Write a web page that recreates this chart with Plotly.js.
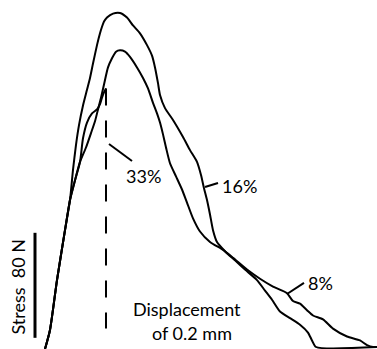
<!DOCTYPE html>
<html>
<head>
<meta charset="utf-8">
<script src="https://cdn.plot.ly/plotly-3.0.1.min.js"></script>
<style>
  html, body { margin: 0; padding: 0; background: #fff; }
  #chart { width: 377px; height: 349px; }
</style>
</head>
<body>
<div id="chart"></div>
<script>
// Load–displacement traces (displacement in mm, stress in N)

// 16% specimen
const disp16 = [0.000, 0.010, 0.024, 0.040, 0.050, 0.056, 0.062, 0.068, 0.076, 0.084, 0.090, 0.096,
  0.104, 0.110, 0.114, 0.118, 0.124, 0.136, 0.150, 0.164, 0.176, 0.190, 0.204, 0.214, 0.220,
  0.226, 0.230, 0.240, 0.256, 0.276, 0.290, 0.304, 0.312, 0.318, 0.324, 0.330, 0.336, 0.344,
  0.360, 0.380, 0.400, 0.424, 0.440, 0.454, 0.470, 0.490, 0.510, 0.526, 0.534, 0.542, 0.664];
const stress16 = [-1.5, 13, 51, 89, 112, 135, 154, 169, 184, 196, 205, 216,
  230, 239, 244, 248, 251, 254, 254.5, 251, 245, 239, 230, 222, 213,
  201, 192, 182, 173, 160, 150, 141, 131, 121, 112, 101, 89, 80,
  73, 66, 59, 51, 43, 36, 27, 22, 17, 11, 5, 0, 0];

// 8% specimen
const disp8 = [0.000, 0.010, 0.024, 0.040, 0.050, 0.060, 0.070, 0.082, 0.092, 0.100, 0.106, 0.112,
  0.118, 0.126, 0.134, 0.142, 0.150, 0.160, 0.170, 0.184, 0.196, 0.206, 0.216, 0.224, 0.230,
  0.236, 0.242, 0.250, 0.262, 0.274, 0.284, 0.296, 0.310, 0.330, 0.356, 0.376, 0.404, 0.430,
  0.456, 0.484, 0.496, 0.510, 0.524, 0.536, 0.556, 0.576, 0.604, 0.630, 0.644, 0.656, 0.664];
const stress8 = [-1.5, 13, 51, 89, 112, 127, 141, 152, 163, 172, 181, 190,
  200, 213, 220, 225, 226, 225, 221, 213, 205, 197, 186, 178, 171,
  162, 152, 140, 130, 120, 110, 98, 88, 80, 74, 68, 59, 52,
  46, 41, 35, 33, 28, 24, 21, 14, 8, 5, 1.5, 0, 0];

// 33% specimen (fails at its peak)
const disp33 = [0.000, 0.010, 0.024, 0.040, 0.050, 0.060, 0.070, 0.076, 0.084, 0.094, 0.104,
  0.110, 0.114, 0.118, 0.122];
const stress33 = [-1.5, 13, 51, 89, 112, 127, 141, 159, 171, 178, 181,
  185, 190, 194, 197];

// drop after failure of the 33% specimen
const dropDisp = [0.122, 0.122];
const dropStress = [197, 14];

// stress scale bar: 80 N
const scaleDisp = [-0.020, -0.020];
const scaleStress = [7, 87];

const curveLabels = ['33%', '16%', '8%'];
const scaleLabel = 'Stress\u00a0\u00a080 N';
const dispLabel = ['Displacement', 'of 0.2 mm'];

const ink = '#000';
const curve = (x, y) => ({
  x, y, type: 'scatter', mode: 'lines', hoverinfo: 'skip',
  line: { color: ink, width: 2, shape: 'spline', smoothing: 0.6 }
});

const traces = [
  curve(disp16, stress16),
  curve(disp8, stress8),
  curve(disp33, stress33),
  { x: dropDisp, y: dropStress, type: 'scatter', mode: 'lines',
    line: { color: ink, width: 2, dash: '17px,15px' } },
  { x: scaleDisp, y: scaleStress, type: 'scatter', mode: 'lines',
    line: { color: ink, width: 3 } }
];

const font = { family: 'Lato, "Open Sans", sans-serif', size: 18, color: ink };
const ann = (text, x, y, extra) => Object.assign({
  text, x, y, xref: 'x', yref: 'y', showarrow: false,
  xanchor: 'center', yanchor: 'middle', font
}, extra || {});

const leader = (x0, y0, x1, y1) => ({
  type: 'line', xref: 'x', yref: 'y', x0, y0, x1, y1,
  line: { color: ink, width: 2 }
});

const layout = {
  width: 377, height: 349,
  margin: { l: 0, r: 0, t: 0, b: 0 },
  paper_bgcolor: '#fff', plot_bgcolor: '#fff',
  showlegend: false,
  xaxis: { visible: false, range: [-0.090, 0.664], fixedrange: true },
  yaxis: { visible: false, range: [-1.524, 264.38], fixedrange: true },
  annotations: [
    ann(curveLabels[0], 0.196, 130.3),
    ann(curveLabels[1], 0.388, 123.0),
    ann(curveLabels[2], 0.550, 48.8),
    ann(dispLabel[0], 0.283, 29.3),
    ann(dispLabel[1], 0.294, 11.0),
    ann(scaleLabel, -0.054, 46.1, { textangle: -90 })
  ],
  shapes: [
    leader(0.128, 154.7, 0.174, 141.7),
    leader(0.320, 121.9, 0.346, 125.0),
    leader(0.484, 40.4, 0.518, 48.8)
  ]
};

Plotly.newPlot('chart', traces, layout, { staticPlot: true, displayModeBar: false });
</script>
</body>
</html>
